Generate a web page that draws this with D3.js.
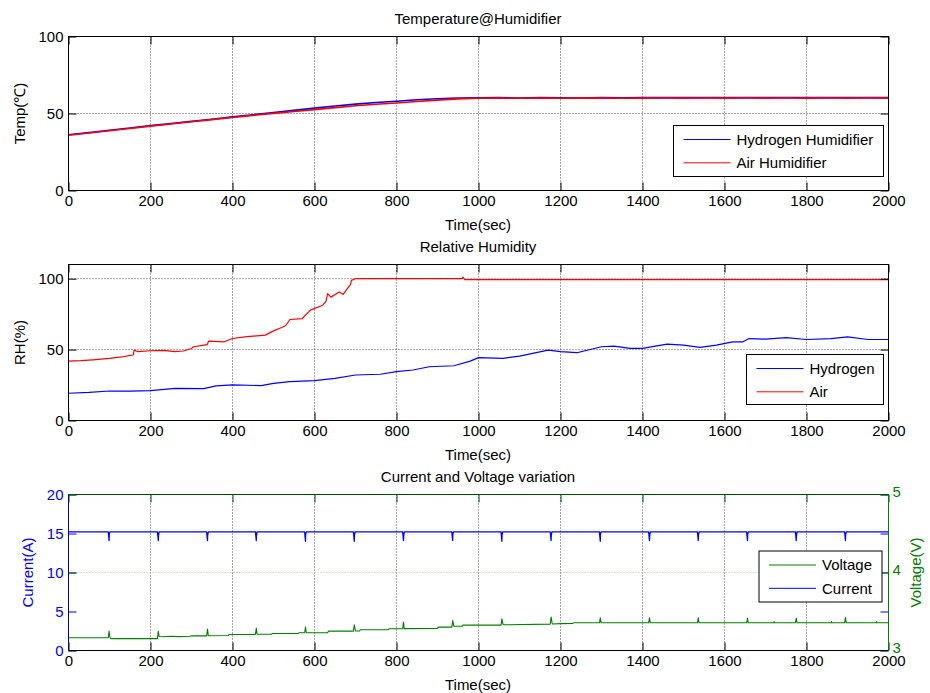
<!DOCTYPE html>
<html>
<head>
<meta charset="utf-8">
<script src="https://cdn.jsdelivr.net/npm/d3@7"></script>
<style>
  body { margin: 0; background: #fff; }
  svg { display: block; font-family: "Liberation Sans", Arial, Helvetica, sans-serif; }
</style>
</head>
<body>
<svg id="chart" width="930" height="693"></svg>
<script>
// ---------- data ----------
const timeTicks = [0, 200, 400, 600, 800, 1000, 1200, 1400, 1600, 1800, 2000];

// Humidifier temperatures (°C), sampled every 50 s
const tempTime = [0, 50, 100, 150, 200, 250, 300, 350, 400, 450, 500, 550, 600, 650, 700, 750, 800, 850, 900, 950,
  1000, 1050, 1100, 1150, 1200, 1250, 1300, 1350, 1400, 1450, 1500, 1550, 1600, 1650, 1700, 1750, 1800, 1850, 1900, 1950, 2000];
const tempHydrogen = [36.2, 37.6, 39.1, 40.6, 42.1, 43.5, 44.9, 46.3, 47.8, 49.2, 50.6, 52.0, 53.5, 54.9, 56.1, 57.1, 58.0, 58.9, 59.6, 60.1,
  60.2, 60.3, 60.1, 60.3, 60.2, 60.1, 60.3, 60.2, 60.4, 60.3, 60.4, 60.3, 60.4, 60.3, 60.4, 60.3, 60.4, 60.3, 60.4, 60.3, 60.4];
const tempAir = [35.9, 37.3, 38.8, 40.3, 41.8, 43.2, 44.6, 46.0, 47.4, 48.8, 50.1, 51.3, 52.5, 53.8, 55.0, 56.0, 56.8, 57.8, 58.7, 59.5,
  59.9, 60.0, 59.9, 60.0, 59.9, 60.0, 60.0, 59.9, 60.0, 60.1, 60.0, 60.1, 60.0, 60.1, 60.0, 60.1, 60.0, 60.1, 60.0, 60.1, 60.0];
const tempTicks = [0, 50, 100];

// Relative humidity (%)
const rhHydrogenTime = [0, 50, 100, 150, 200, 260, 330, 360, 400, 470, 500, 540, 600, 650, 700, 760, 800, 840, 880, 940, 980,
  1000, 1060, 1100, 1170, 1200, 1240, 1300, 1330, 1370, 1400, 1460, 1500, 1540, 1580, 1620, 1645, 1660, 1700, 1750, 1800, 1860, 1900, 1950, 2000];
const rhHydrogen = [19.2, 19.8, 20.8, 20.7, 21.1, 22.7, 22.5, 24.4, 25.1, 24.6, 26.2, 27.4, 28.1, 29.7, 32.1, 32.6, 34.4, 35.6, 37.9, 38.6, 41.9,
  44.3, 43.8, 45.4, 49.6, 48.5, 47.8, 52.0, 52.5, 50.8, 50.8, 53.9, 53.2, 51.5, 53.2, 55.5, 55.5, 57.8, 57.4, 58.5, 57.1, 57.8, 59.0, 57.1, 57.1];
const rhAirTime = [0, 30, 60, 100, 130, 150, 158, 160, 170, 200, 230, 260, 280, 300, 305, 330, 338, 342, 380, 400, 430, 480, 500, 520, 530,
  540, 570, 590, 620, 628, 632, 640, 660, 670, 680, 688, 690, 700, 960, 962, 966, 2000];
const rhAir = [41.9, 42.2, 42.8, 43.8, 44.8, 45.9, 46.2, 49.6, 48.5, 49.2, 49.5, 48.5, 49.0, 50.8, 52.0, 53.2, 53.5, 56.0, 55.5, 57.8, 59.0, 60.2, 63.2, 65.6, 67.0,
  71.2, 71.9, 77.8, 81.3, 84.0, 89.5, 87.0, 90.6, 89.0, 93.0, 96.0, 98.8, 100, 100, 101.2, 99.4, 99.4];
const rhTicks = [0, 50, 100];

// Stack current (A): steady ~15.2 A with short dips
const currentTime = [0,
  97, 99, 99.5, 101,  217, 219, 219.5, 221,  337, 339, 339.5, 341,  456, 458, 458.5, 460,
  576, 578, 578.5, 580,  695, 697, 697.5, 699,  815, 817, 817.5, 819,  935, 937, 937.5, 939,
  1055, 1057, 1057.5, 1059,  1175, 1177, 1177.5, 1179,  1295, 1297, 1297.5, 1299,  1415, 1417, 1417.5, 1419,
  1534, 1536, 1536.5, 1538,  1654, 1656, 1656.5, 1658,  1773, 1775, 1775.5, 1777,  1893, 1895, 1895.5, 1897,
  2000];
const current = [15.2,
  15.2, 14.1, 14.9, 15.2,  15.2, 14.1, 14.7, 15.2,  15.2, 14.1, 14.8, 15.2,  15.2, 14.1, 14.7, 15.2,
  15.2, 14.0, 14.9, 15.2,  15.2, 14.0, 14.8, 15.2,  15.2, 14.1, 14.7, 15.2,  15.2, 14.1, 14.9, 15.2,
  15.2, 14.0, 14.9, 15.2,  15.2, 14.1, 14.8, 15.2,  15.2, 14.0, 14.9, 15.2,  15.2, 14.1, 14.7, 15.2,
  15.2, 14.1, 14.8, 15.2,  15.2, 14.1, 14.9, 15.2,  15.2, 14.1, 14.7, 15.2,  15.2, 14.1, 14.8, 15.2,
  15.2];
const currentTicks = [0, 5, 10, 15, 20];

// Cell voltage (V): slow staircase rise with a spike at every current dip
const voltageTime = [0, 97, 99, 101, 103, 110,
  217, 219, 221, 230, 250, 270, 295, 300,
  337, 339, 341, 390, 392,
  456, 458, 460, 495, 497,
  560, 562, 576, 578, 580,
  632, 634, 695, 697, 700, 710, 712,
  780, 782, 815, 817, 819,
  900, 902, 935, 937, 940,
  960, 962, 1055, 1057, 1060, 1063,
  1175, 1177, 1180, 1200, 1230, 1232,
  1295, 1297, 1299,
  1415, 1417, 1419,
  1534, 1536, 1538,
  1654, 1656, 1658,
  1720, 1721, 1722,
  1773, 1775, 1777,
  1860, 1861, 1862,
  1893, 1895, 1897,
  1970, 1971, 1972,
  2000];
const voltage = [3.163, 3.163, 3.248, 3.170, 3.150, 3.152,
  3.152, 3.245, 3.180, 3.176, 3.182, 3.178, 3.183, 3.188,
  3.188, 3.274, 3.190, 3.192, 3.206,
  3.206, 3.287, 3.208, 3.208, 3.218,
  3.218, 3.227, 3.227, 3.300, 3.228,
  3.228, 3.248, 3.248, 3.330, 3.250, 3.250, 3.266,
  3.266, 3.278, 3.278, 3.364, 3.280,
  3.282, 3.300, 3.300, 3.385, 3.310,
  3.310, 3.325, 3.325, 3.407, 3.335, 3.330,
  3.338, 3.430, 3.340, 3.345, 3.348, 3.355,
  3.355, 3.420, 3.355,
  3.355, 3.420, 3.355,
  3.355, 3.420, 3.355,
  3.355, 3.415, 3.355,
  3.355, 3.370, 3.355,
  3.355, 3.415, 3.355,
  3.355, 3.370, 3.355,
  3.355, 3.425, 3.355,
  3.355, 3.370, 3.355,
  3.355];
const voltageTicks = [3, 4, 5];

// ---------- drawing ----------
const svg = d3.select("#chart");
const X0 = 68.5, X1 = 888.5;
const FONT = 15;
const x = d3.scaleLinear().domain([0, 2000]).range([X0, X1]);
const BLUE = "#0000ff", RED = "#ff0000", GREEN = "#008000";
const gridStyle = sel => sel.attr("stroke", "#4d4d4d").attr("stroke-width", 1).attr("stroke-dasharray", "1,2");

function styleAxis(sel, color, labels) {
  sel.select(".domain").remove();
  sel.selectAll(".tick line").attr("stroke", color);
  sel.selectAll(".tick text")
    .attr("fill", color)
    .attr("font-size", FONT)
    .attr("font-family", "Liberation Sans, Arial, sans-serif");
  if (!labels) sel.selectAll(".tick text").remove();
}

function seriesPath(g, clip, t, v, y, color, width) {
  g.append("path")
    .datum(d3.range(t.length))
    .attr("clip-path", `url(#${clip})`)
    .attr("fill", "none")
    .attr("stroke", color)
    .attr("stroke-width", width)
    .attr("stroke-linejoin", "round")
    .attr("d", d3.line().x(i => x(t[i])).y(i => y(v[i])));
}

function legend(g, lx, ly, w, h, entries) {
  const lg = g.append("g");
  lg.append("rect").attr("x", lx).attr("y", ly).attr("width", w).attr("height", h)
    .attr("fill", "#fff").attr("stroke", "#000").attr("stroke-width", 1);
  entries.forEach((e, i) => {
    const cy = ly + 14 + i * 23.3;
    lg.append("line").attr("x1", lx + 10).attr("x2", lx + 57).attr("y1", cy).attr("y2", cy)
      .attr("stroke", e.color).attr("stroke-width", 1);
    lg.append("text").attr("x", lx + 63).attr("y", cy).attr("dy", "0.36em")
      .attr("font-size", FONT).attr("fill", "#000").text(e.label);
  });
}

function panel(p) {
  const g = svg.append("g");
  const y = d3.scaleLinear().domain(p.yDomain).range([p.bottom, p.top]);
  const clip = "clip-" + p.id;
  svg.append("clipPath").attr("id", clip).append("rect")
    .attr("x", X0).attr("y", p.top).attr("width", X1 - X0).attr("height", p.bottom - p.top);

  // grid
  g.append("g").selectAll("line").data(timeTicks.slice(1, -1)).join("line")
    .attr("x1", d => x(d)).attr("x2", d => x(d)).attr("y1", p.top).attr("y2", p.bottom).call(gridStyle);
  g.append("g").selectAll("line").data(p.yGrid).join("line")
    .attr("x1", X0).attr("x2", X1).attr("y1", d => y(d)).attr("y2", d => y(d)).call(gridStyle);

  // series
  p.series.forEach(s => seriesPath(g, clip, s.t, s.v, y, s.color, s.width));

  // axes (ticks point inward on all four sides)
  g.append("g").attr("transform", `translate(0,${p.bottom})`)
    .call(d3.axisBottom(x).tickValues(timeTicks).tickSize(-8).tickPadding(5).tickFormat(d3.format("d")))
    .call(s => styleAxis(s, "#000", true));
  g.append("g").attr("transform", `translate(0,${p.top})`)
    .call(d3.axisTop(x).tickValues(timeTicks).tickSize(-8))
    .call(s => styleAxis(s, "#000", false));
  g.append("g").attr("transform", `translate(${X0},0)`)
    .call(d3.axisLeft(y).tickValues(p.yTicks).tickSize(-8).tickPadding(5).tickFormat(d3.format("d")))
    .call(s => styleAxis(s, "#000", true));
  g.append("g").attr("transform", `translate(${X1},0)`)
    .call(d3.axisRight(y).tickValues(p.yTicks).tickSize(-8))
    .call(s => styleAxis(s, "#000", false));

  g.append("rect").attr("x", X0).attr("y", p.top).attr("width", X1 - X0).attr("height", p.bottom - p.top)
    .attr("fill", "none").attr("stroke", "#000").attr("stroke-width", 1);

  // texts
  g.append("text").attr("x", 478).attr("y", p.top - 13).attr("text-anchor", "middle")
    .attr("font-size", FONT).text(p.title);
  g.append("text").attr("x", 478).attr("y", p.bottom + 39).attr("text-anchor", "middle")
    .attr("font-size", FONT).text("Time(sec)");
  g.append("text").attr("transform", `translate(24.5,${(p.top + p.bottom) / 2}) rotate(-90)`)
    .attr("text-anchor", "middle").attr("font-size", FONT).text(p.yLabel);

  legend(g, p.legend[0], p.legend[1], p.legend[2], p.legend[3], p.legendEntries);
}

// Panel 1: humidifier temperatures
panel({
  id: "temp", top: 36.5, bottom: 190.5, yDomain: [0, 100], yTicks: tempTicks, yGrid: [50],
  title: "Temperature@Humidifier", yLabel: "Temp(℃)",
  series: [
    { t: tempTime, v: tempHydrogen, color: BLUE, width: 1.6 },
    { t: tempTime, v: tempAir, color: RED, width: 1.6 }
  ],
  legend: [673.5, 125.5, 210, 51],
  legendEntries: [{ label: "Hydrogen Humidifier", color: BLUE }, { label: "Air Humidifier", color: RED }]
});

// Panel 2: relative humidity
panel({
  id: "rh", top: 264.5, bottom: 420.5, yDomain: [0, 110], yTicks: rhTicks, yGrid: [50, 100],
  title: "Relative Humidity", yLabel: "RH(%)",
  series: [
    { t: rhHydrogenTime, v: rhHydrogen, color: BLUE, width: 1.2 },
    { t: rhAirTime, v: rhAir, color: RED, width: 1.2 }
  ],
  legend: [746.5, 354.5, 137, 50],
  legendEntries: [{ label: "Hydrogen", color: BLUE }, { label: "Air", color: RED }]
});

// Panel 3: current and voltage on twin y axes
(function () {
  const top = 494.5, bottom = 650.5;
  const g = svg.append("g");
  const yI = d3.scaleLinear().domain([0, 20]).range([bottom, top]);
  const yV = d3.scaleLinear().domain([3, 5]).range([bottom, top]);
  const clip = "clip-iv";
  svg.append("clipPath").attr("id", clip).append("rect")
    .attr("x", X0).attr("y", top).attr("width", X1 - X0).attr("height", bottom - top);

  g.append("g").selectAll("line").data(timeTicks.slice(1, -1)).join("line")
    .attr("x1", d => x(d)).attr("x2", d => x(d)).attr("y1", top).attr("y2", bottom).call(gridStyle);
  g.append("line").attr("x1", X0).attr("x2", X1).attr("y1", yV(4)).attr("y2", yV(4))
    .attr("stroke", "#9cc79c").attr("stroke-width", 1).attr("stroke-dasharray", "1,2");

  seriesPath(g, clip, voltageTime, voltage, yV, GREEN, 1.1);
  seriesPath(g, clip, currentTime, current, yI, BLUE, 1.3);

  g.append("g").attr("transform", `translate(0,${bottom})`)
    .call(d3.axisBottom(x).tickValues(timeTicks).tickSize(-8).tickPadding(5).tickFormat(d3.format("d")))
    .call(s => styleAxis(s, "#000", true));
  g.append("g").attr("transform", `translate(0,${top})`)
    .call(d3.axisTop(x).tickValues(timeTicks).tickSize(-8))
    .call(s => styleAxis(s, "#004d00", false));
  g.append("g").attr("transform", `translate(${X0},0)`)
    .call(d3.axisLeft(yI).tickValues(currentTicks).tickSize(-8).tickPadding(5).tickFormat(d3.format("d")))
    .call(s => styleAxis(s, BLUE, true));
  g.append("g").attr("transform", `translate(${X1},0)`)
    .call(d3.axisRight(yI).tickValues(currentTicks).tickSize(-8))
    .call(s => styleAxis(s, BLUE, false));
  g.append("g").attr("transform", `translate(${X1},0)`)
    .call(d3.axisRight(yV).tickValues(voltageTicks).tickSize(-8).tickPadding(4).tickFormat(d3.format("d")))
    .call(s => styleAxis(s, GREEN, true))
    .call(s => s.selectAll(".tick text").attr("dy", "0.1em"));
  g.append("g").attr("transform", `translate(${X0},0)`)
    .call(d3.axisLeft(yV).tickValues(voltageTicks).tickSize(-8))
    .call(s => styleAxis(s, GREEN, false));

  // frame: bottom black, left blue, top dark green, right green
  g.append("line").attr("x1", X0).attr("x2", X1).attr("y1", bottom).attr("y2", bottom).attr("stroke", "#000");
  g.append("line").attr("x1", X0).attr("x2", X1).attr("y1", top).attr("y2", top).attr("stroke", "#004d00");
  g.append("line").attr("x1", X0).attr("x2", X0).attr("y1", top).attr("y2", bottom).attr("stroke", "#00009c");
  g.append("line").attr("x1", X1).attr("x2", X1).attr("y1", top).attr("y2", bottom).attr("stroke", GREEN);

  g.append("text").attr("x", 478).attr("y", top - 13).attr("text-anchor", "middle")
    .attr("font-size", FONT).text("Current and Voltage variation");
  g.append("text").attr("x", 478).attr("y", bottom + 39).attr("text-anchor", "middle")
    .attr("font-size", FONT).text("Time(sec)");
  g.append("text").attr("transform", `translate(33,${(top + bottom) / 2}) rotate(-90)`)
    .attr("text-anchor", "middle").attr("font-size", FONT).attr("fill", BLUE).text("Current(A)");
  g.append("text").attr("transform", `translate(921,${(top + bottom) / 2}) rotate(-90)`)
    .attr("text-anchor", "middle").attr("font-size", FONT).attr("fill", GREEN).text("Voltage(V)");

  legend(g, 759, 551, 123, 51, [{ label: "Voltage", color: GREEN }, { label: "Current", color: BLUE }]);
})();
</script>
</body>
</html>
